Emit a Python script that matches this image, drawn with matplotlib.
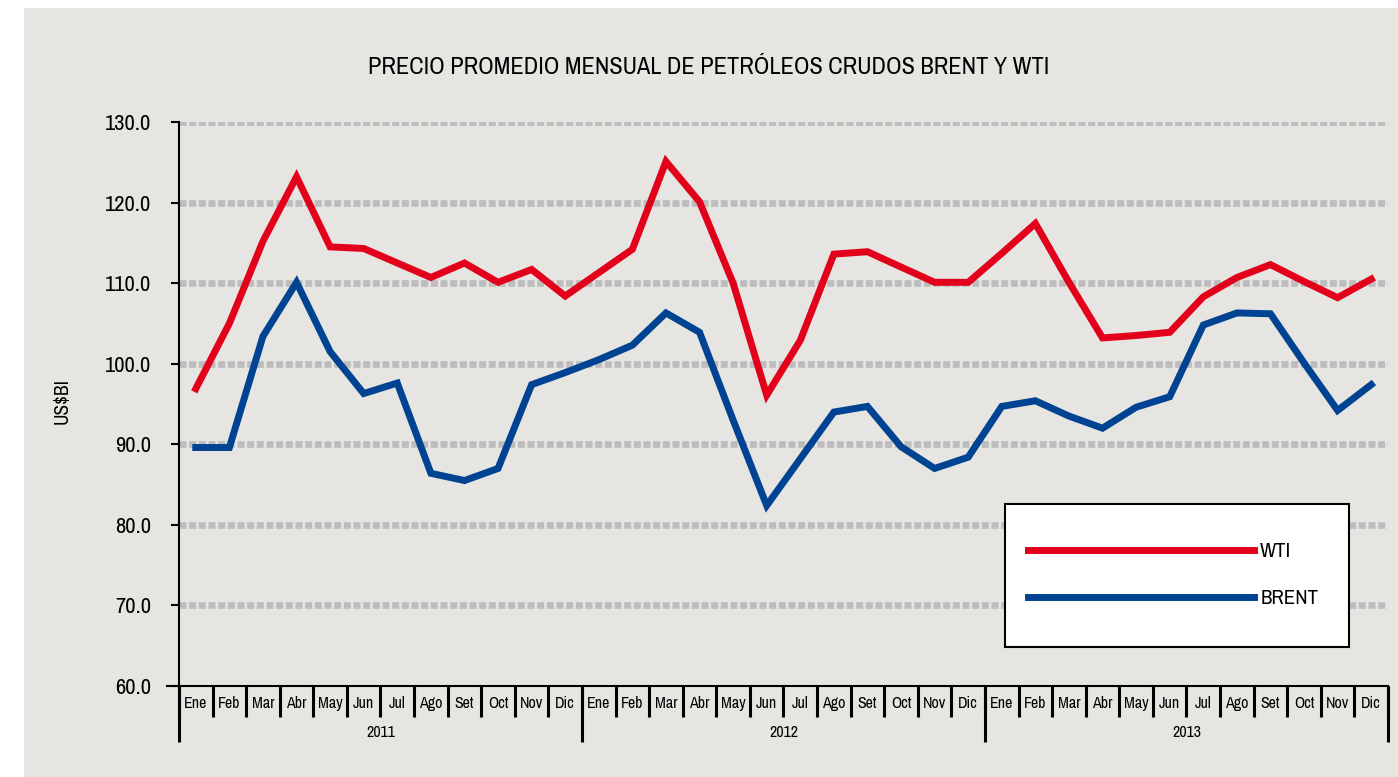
import numpy as np
import matplotlib
matplotlib.use("Agg")
from matplotlib import pyplot as plt
from matplotlib import font_manager as fm
from matplotlib.patches import Rectangle

# fuente angosta parecida a Helvetica Condensed, si esta disponible
nombres = {f.name for f in fm.fontManager.ttflist}
if "Archivo Narrow" in nombres:
    plt.rcParams['font.family'] = ['Archivo Narrow', 'DejaVu Sans']
else:
    plt.rcParams['font.family'] = ['DejaVu Sans']
plt.rcParams['font.stretch'] = 'condensed'

# datos mensuales 2011-2013 (US$/Bl)
meses = ["Ene", "Feb", "Mar", "Abr", "May", "Jun", "Jul", "Ago", "Set", "Oct", "Nov", "Dic"]
anios = ["2011", "2012", "2013"]
wti = [96.9, 105.0, 115.2, 123.2, 114.5, 114.3, 112.5, 110.7, 112.5, 110.1, 111.7, 108.4,
       111.3, 114.2, 125.1, 120.1, 110.0, 96.1, 102.9, 113.6, 113.9, 112.0, 110.1, 110.1,
       113.7, 117.4, 110.1, 103.2, 103.5, 103.9, 108.3, 110.7, 112.3, 110.2, 108.2, 110.5]
brent = [89.6, 89.6, 103.4, 110.1, 101.5, 96.3, 97.6, 86.4, 85.5, 87.0, 97.4, 98.9,
         100.5, 102.3, 106.3, 103.9, 93.0, 82.4, 88.2, 94.0, 94.7, 89.7, 87.0, 88.4,
         94.7, 95.4, 93.5, 92.0, 94.6, 95.9, 104.8, 106.3, 106.2, 100.1, 94.2, 97.4]
y_ticks = [60, 70, 80, 90, 100, 110, 120, 130]

rojo = "#e2001a"
azul = "#004392"
fondo = "#e6e5e1"

fig = plt.figure(figsize=(13.98, 7.77), dpi=100, facecolor="white")
# fondo gris (deja margen blanco arriba e izquierda)
fig.patches.append(Rectangle((24 / 1398, 0), 1 - 24 / 1398, 1 - 8 / 777,
                             transform=fig.transFigure, facecolor=fondo,
                             edgecolor="none", zorder=-10))

ax = fig.add_axes([179 / 1398, 1 - 686 / 777, (1388 - 179) / 1398, (686 - 122) / 777])
ax.set_facecolor("none")

n = len(meses) * len(anios)
x = np.arange(n)
ax.set_xlim(-0.5, n - 0.5)
ax.set_ylim(y_ticks[0], y_ticks[-1])

# lineas de grilla punteadas
for v in y_ticks[1:]:
    ax.axhline(v, color="#bdbdbf", lw=4.8, linestyle=(0, (1.05, 0.4)), zorder=1)

ax.plot(x, wti, color=rojo, lw=5, solid_joinstyle="miter", label="WTI", zorder=3)
ax.plot(x, brent, color=azul, lw=5, solid_joinstyle="miter", label="BRENT", zorder=3)

# ejes
for s in ["top", "right", "bottom"]:
    ax.spines[s].set_visible(False)
ax.spines["left"].set_linewidth(1.5)
ax.plot([-0.01, 1], [0, 0], transform=ax.transAxes, color="black", lw=1.5,
        clip_on=False, zorder=4)

ax.set_yticks(y_ticks)
ax.set_yticklabels([f"{v:.1f}" for v in y_ticks])
ax.tick_params(axis="y", length=5.8, width=1.5, pad=14.5, labelsize=16.2)

ax.set_xticks(x)
ax.set_xticklabels(meses * len(anios))
ax.set_xticks(np.arange(n + 1) - 0.5, minor=True)
ax.tick_params(axis="x", which="major", length=0, pad=7, labelsize=11.5)
ax.tick_params(axis="x", which="minor", length=22, width=2.2)

# divisiones por anio
sec = ax.secondary_xaxis("bottom")
sec.spines["bottom"].set_visible(False)
sec.set_xticks(np.arange(len(anios)) * 12 + 5.5)
sec.set_xticklabels(anios)
sec.set_xticks(np.arange(len(anios) + 1) * 12 - 0.5, minor=True)
sec.tick_params(axis="x", which="major", length=0, pad=28, labelsize=11.5)
sec.tick_params(axis="x", which="minor", length=40, width=2.2)

# leyenda
ax.add_patch(Rectangle((0.683, 0.0691), 0.2845, 0.2536, transform=ax.transAxes,
                       facecolor="white", edgecolor="black", lw=1.5, zorder=5))
leg = ax.legend(loc="center left", bbox_to_anchor=(0.6935, 0.197), frameon=False,
                borderpad=0, handlelength=10.85, handletextpad=0.3,
                labelspacing=1.35, fontsize=15)
leg.set_zorder(6)

fig.text(709 / 1398, 1 - 67 / 777, "PRECIO PROMEDIO MENSUAL DE PETRÓLEOS CRUDOS BRENT Y WTI",
         ha="center", va="center", fontsize=17.5)
fig.text(62 / 1398, 1 - 401 / 777, "US$BI", rotation=90, ha="center", va="center",
         fontsize=14)

fig.savefig("out.png", dpi=100, facecolor="white")
